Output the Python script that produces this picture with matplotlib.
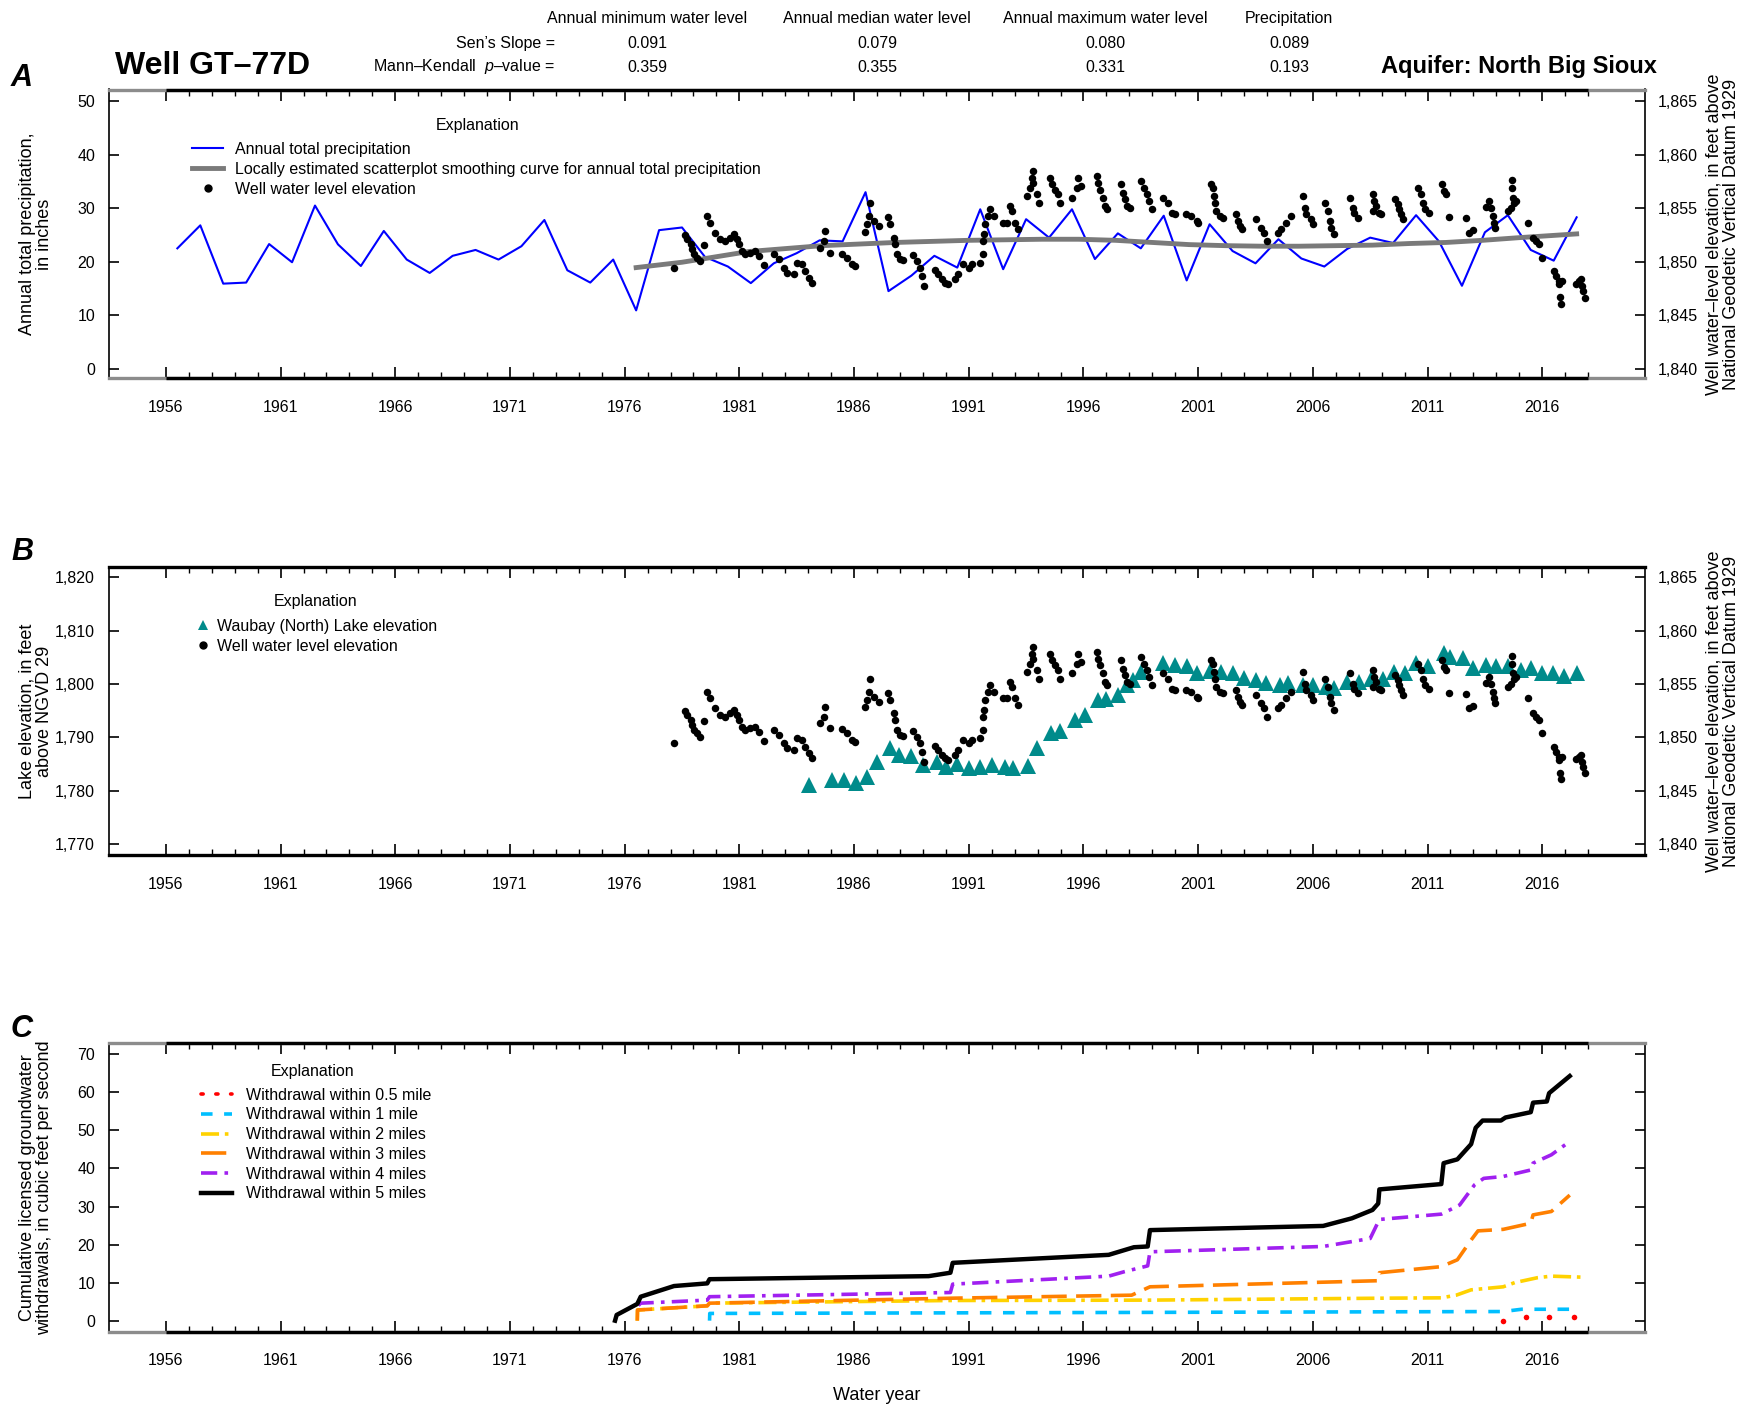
import matplotlib
matplotlib.use("Agg")
import matplotlib.pyplot as plt
from matplotlib.lines import Line2D
from matplotlib.ticker import FixedLocator, FuncFormatter

plt.rcParams['font.family'] = ['Liberation Sans', 'DejaVu Sans']
plt.rcParams['mathtext.fontset'] = 'custom'
plt.rcParams['mathtext.rm'] = 'Liberation Sans'
plt.rcParams['mathtext.it'] = 'Liberation Sans:italic'

# ---- data ----
trend_cols = ["Annual minimum water level", "Annual median water level",
              "Annual maximum water level", "Precipitation"]
sens_slope = ["0.091", "0.079", "0.080", "0.089"]
mk_pvalue = ["0.359", "0.355", "0.331", "0.193"]

# annual total precipitation (inches), water years 1956-2017
precip_year = list(range(1956, 2018))
precip_in = [22.5, 26.8, 15.9, 16.1, 23.3, 19.9, 30.5, 23.25, 19.2, 25.75,
             20.4, 17.9, 21.1, 22.2, 20.4, 22.9, 27.8, 18.4, 16.1, 20.4,
             10.9, 25.9, 26.4, 20.9, 19.1, 16.0, 19.7, 21.6, 24.0, 23.8,
             33.0, 14.5, 17.4, 21.1, 18.9, 29.8, 18.6, 27.95, 24.5, 29.8,
             20.5, 25.3, 22.5, 28.6, 16.5, 27.0, 22.0, 19.7, 24.2, 20.6,
             19.1, 22.4, 24.5, 23.5, 28.7, 23.8, 15.5, 25.5, 28.7, 22.2,
             20.2, 28.3]

# LOESS smoothing curve of precipitation
loess_yr = [1976.5, 1978.5, 1981.4, 1984.6, 1987.8, 1991.0, 1994.2, 1995.8,
            1997.4, 1999.0, 2000.6, 2002.2, 2003.8, 2005.4, 2007.0, 2008.6,
            2010.2, 2011.8, 2013.4, 2015.0, 2017.5]
loess_in = [18.9, 19.9, 21.9, 23.0, 23.6, 24.0, 24.2, 24.2, 24.0, 23.6,
            23.2, 23.0, 22.9, 22.9, 23.0, 23.1, 23.4, 23.6, 24.0, 24.5, 25.2]

# well water-level elevation (ft NGVD 29)
well_yr = [1978.17,
           1978.65, 1978.72, 1978.87, 1978.94, 1979.01, 1979.16, 1979.30,
           1979.45, 1979.59, 1979.71,
           1979.95, 1980.17, 1980.39, 1980.61, 1980.75, 1980.90, 1980.97,
           1981.12, 1981.26, 1981.48, 1981.70, 1981.84, 1982.06,
           1982.49, 1982.71, 1982.93, 1983.08,
           1983.37, 1983.51, 1983.73, 1983.87, 1984.02, 1984.16,
           1984.53, 1984.67, 1984.74, 1984.96,
           1985.47, 1985.69, 1985.90, 1986.05,
           1986.49, 1986.56, 1986.63, 1986.70, 1986.85, 1987.07,
           1987.50, 1987.57, 1987.72, 1987.79, 1987.89, 1988.01, 1988.15,
           1988.59, 1988.74, 1988.88, 1988.95, 1989.06,
           1989.53, 1989.68, 1989.82, 1989.97, 1990.11,
           1990.40, 1990.55, 1990.77, 1990.99, 1991.13,
           1991.49, 1991.61, 1991.64, 1991.67, 1991.71, 1991.86, 1991.93,
           1992.08, 1992.51, 1992.66, 1992.80, 1992.87, 1993.02, 1993.16,
           1993.53, 1993.67, 1993.74, 1993.79, 1993.82, 1993.96, 1994.08,
           1994.54, 1994.61, 1994.76, 1994.91, 1994.98,
           1995.49, 1995.70, 1995.78, 1995.88,
           1996.60, 1996.65, 1996.72, 1996.84, 1996.94, 1997.01,
           1997.62, 1997.71, 1997.81, 1997.92, 1998.03,
           1998.53, 1998.64, 1998.75, 1998.87, 1998.97,
           1999.48, 1999.70, 1999.88, 1999.99,
           2000.49, 2000.71, 2000.93, 2001.00,
           2001.58, 2001.65, 2001.68, 2001.73, 2001.80, 2001.94, 2002.09,
           2002.67, 2002.74, 2002.82, 2002.93,
           2003.54, 2003.76, 2003.86, 2003.98,
           2004.48, 2004.63, 2004.85, 2005.06,
           2005.57, 2005.65, 2005.72, 2005.94, 2006.01,
           2006.51, 2006.65, 2006.73, 2006.80, 2006.94,
           2007.60, 2007.74, 2007.81, 2007.96,
           2008.61, 2008.68, 2008.76, 2008.62, 2008.90, 2008.98,
           2009.60, 2009.70, 2009.77, 2009.85, 2009.92,
           2010.57, 2010.72, 2010.79, 2010.91, 2011.05,
           2011.63, 2011.73, 2011.81, 2011.95,
           2012.68, 2012.79, 2012.99,
           2013.55, 2013.69, 2013.76, 2013.84, 2013.91, 2013.93,
           2014.49, 2014.64, 2014.68, 2014.69, 2014.74, 2014.78, 2014.85,
           2015.40,
           2015.58, 2015.72, 2015.84, 2015.99,
           2016.52, 2016.62, 2016.71, 2016.86, 2016.74, 2016.77, 2016.81,
           2017.47, 2017.61, 2017.68, 2017.73, 2017.76, 2017.87]
well_lvl = [1849.43,
            1852.49, 1852.08, 1851.61, 1851.15, 1850.68, 1850.37, 1850.06,
            1851.55, 1854.26, 1853.64,
            1852.70, 1852.08, 1851.93, 1852.24, 1852.55, 1852.08, 1851.61,
            1850.99, 1850.68, 1850.84, 1850.99, 1850.52, 1849.68,
            1850.68, 1850.21, 1849.43, 1848.97,
            1848.81, 1849.90, 1849.75, 1849.12, 1848.50, 1848.03,
            1851.30, 1851.93, 1852.86, 1850.84,
            1850.74, 1850.37, 1849.75, 1849.59,
            1852.80, 1853.48, 1854.26, 1855.51, 1853.80, 1853.33,
            1854.17, 1853.48, 1852.24, 1851.61, 1850.68, 1850.21, 1850.12,
            1850.62, 1850.06, 1849.43, 1848.66, 1847.72,
            1849.18, 1848.81, 1848.34, 1848.03, 1847.88,
            1848.34, 1848.81, 1849.75, 1849.43, 1849.75,
            1849.90, 1850.68, 1851.93, 1852.55, 1853.48, 1854.26, 1854.89,
            1854.26, 1853.64, 1853.64, 1855.20, 1854.73, 1853.64, 1853.02,
            1856.13, 1856.91, 1857.85, 1858.47, 1857.38, 1856.29, 1855.51,
            1857.85, 1857.22, 1856.75, 1856.29, 1855.51,
            1855.98, 1856.91, 1857.85, 1857.07,
            1858.00, 1857.38, 1856.75, 1855.98, 1855.20, 1854.89,
            1857.28, 1856.44, 1855.82, 1855.20, 1855.04,
            1857.53, 1856.91, 1856.29, 1855.66, 1854.89,
            1855.98, 1855.51, 1854.57, 1854.42,
            1854.42, 1854.26, 1853.80, 1853.64,
            1857.28, 1856.91, 1856.13, 1855.51, 1854.73, 1854.26, 1854.11,
            1854.42, 1853.80, 1853.33, 1853.02,
            1853.95, 1853.17, 1852.70, 1851.93,
            1852.70, 1853.02, 1853.64, 1854.26,
            1856.13, 1855.04, 1854.42, 1853.95, 1853.48,
            1855.51, 1854.73, 1853.80, 1853.17, 1852.55,
            1855.98, 1855.04, 1854.57, 1854.11,
            1856.29, 1855.66, 1855.20, 1854.73, 1854.57, 1854.42,
            1855.82, 1855.35, 1854.89, 1854.42, 1853.95,
            1856.91, 1856.29, 1855.51, 1854.89, 1854.57,
            1857.28, 1856.60, 1856.35, 1854.17,
            1854.04, 1852.70, 1852.92,
            1855.10, 1855.66, 1855.04, 1854.26, 1853.64, 1853.17,
            1854.73, 1855.04, 1856.91, 1857.60, 1855.98, 1855.51, 1855.66,
            1853.64,
            1852.24, 1851.93, 1851.61, 1850.37,
            1849.12, 1848.66, 1848.19, 1848.19, 1847.88, 1846.69, 1846.07,
            1847.94, 1848.19, 1848.34, 1847.72, 1847.25, 1846.63]

# Waubay (North) Lake elevation (ft NGVD 29)
lake_yr = [1984.05, 1985.04, 1985.55, 1986.10, 1986.55, 1987.00, 1987.55,
           1987.98, 1988.50, 1989.00, 1989.60, 1990.00, 1990.50, 1991.00,
           1991.50, 1992.00, 1992.58, 1992.95, 1993.60, 1993.96, 1994.60,
           1994.98, 1995.63, 1996.07, 1996.65, 1997.00, 1997.52, 1997.88,
           1998.17, 1998.53, 1999.48, 1999.98, 2000.50, 2000.96, 2001.50,
           2002.00, 2002.50, 2003.00, 2003.54, 2003.97, 2004.56, 2004.90,
           2005.57, 2006.00, 2006.58, 2006.94, 2007.50, 2008.00, 2008.54,
           2009.05, 2009.55, 2010.00, 2010.50, 2011.00, 2011.73, 2012.00,
           2012.53, 2012.97, 2013.55, 2013.98, 2014.49, 2015.07, 2015.50,
           2015.98, 2016.45, 2016.96, 2017.50]
lake_elev = [1781.1, 1782.0, 1782.0, 1781.4, 1782.6, 1785.4, 1787.9,
             1786.7, 1786.4, 1784.8, 1785.4, 1784.5, 1784.9, 1784.2,
             1784.5, 1784.8, 1784.5, 1784.2, 1784.6, 1787.9, 1790.75,
             1791.25, 1793.25, 1794.2, 1797.0, 1797.1, 1797.9, 1799.8,
             1800.75, 1802.3, 1803.9, 1803.6, 1803.4, 1802.0, 1802.5,
             1802.3, 1802.0, 1801.1, 1800.75, 1800.1, 1799.8, 1800.1,
             1799.8, 1799.8, 1799.5, 1799.2, 1800.4, 1800.4, 1801.0,
             1801.0, 1802.3, 1802.0, 1803.9, 1803.3, 1805.75, 1805.1,
             1804.8, 1802.9, 1803.5, 1803.3, 1803.3, 1802.6, 1802.9,
             1802.1, 1802.1, 1801.4, 1802.0]

# cumulative licensed groundwater withdrawals (ft3/s)
w05_yr = [2014.3, 2015.3, 2016.3, 2017.4]
w05_q = [0.0, 0.9, 0.9, 0.9]
w1_yr = [1979.7, 1979.71, 2014.3, 2015.1, 2017.5]
w1_q = [0.0, 1.9, 2.4, 3.0, 3.0]
w2_yr = [1976.55, 1976.56, 1979.6, 1979.7, 1990.2, 1998.9, 2008.85, 2011.6,
         2012.25, 2012.9, 2014.3, 2014.8, 2015.8, 2016.4, 2017.9]
w2_q = [0.0, 2.8, 3.9, 4.6, 5.3, 5.4, 5.9, 6.0, 6.7, 8.1, 8.9, 10.0, 11.3,
        11.7, 11.4]
w3_yr = [1976.55, 1976.56, 1979.6, 1979.7, 1990.2, 1998.1, 1998.9, 2008.85,
         2008.9, 2011.6, 2012.3, 2012.9, 2013.2, 2014.3, 2015.5, 2015.6,
         2016.4, 2017.2]
w3_q = [0.0, 2.8, 3.9, 4.6, 5.9, 6.7, 8.9, 10.5, 12.6, 14.2, 16.0, 21.2,
        23.6, 24.0, 25.6, 27.8, 28.7, 33.0]
w4_yr = [1976.6, 1976.7, 1979.6, 1979.7, 1990.2, 1990.3, 1997.1, 1997.8,
         1998.8, 1998.9, 2006.45, 2008.5, 2008.9, 2011.6, 2012.4, 2013.05,
         2013.45, 2014.3, 2015.5, 2015.6, 2016.4, 2017.2]
w4_q = [4.0, 4.6, 5.4, 6.3, 7.4, 9.6, 11.7, 12.9, 14.4, 18.1, 19.5, 21.6,
        26.6, 28.0, 30.4, 35.7, 37.4, 37.9, 39.6, 41.4, 43.6, 47.1]
w5_yr = [1975.58, 1975.65, 1976.55, 1976.7, 1978.15, 1979.6, 1979.7, 1989.25,
         1990.2, 1990.3, 1997.1, 1998.2, 1998.8, 1998.9, 2006.45, 2007.7,
         2008.6, 2008.85, 2008.9, 2011.6, 2011.7, 2012.3, 2012.9, 2013.1,
         2013.4, 2014.2, 2014.4, 2015.5, 2015.6, 2016.2, 2016.3, 2017.2]
w5_q = [0.0, 1.5, 4.4, 6.3, 9.1, 9.8, 10.9, 11.7, 12.6, 15.2, 17.3, 19.3,
        19.5, 23.8, 24.9, 26.9, 29.1, 30.8, 34.5, 35.9, 41.4, 42.4, 46.4,
        50.7, 52.6, 52.6, 53.4, 54.8, 57.3, 57.6, 59.8, 64.3]

year_ticks = list(range(1956, 2017, 5))
W, H = 1758, 1408
FS = 11.5
LBL = 13
right_label = "Well water\u2013level elevation, in feet above\nNational Geodetic Vertical Datum 1929"
comma = FuncFormatter(lambda v, p: f"{v:,.0f}")

fig = plt.figure(figsize=(W / 100, H / 100), dpi=100)


def add_axes_px(left, top, right, bottom):
    return fig.add_axes([left / W, 1 - bottom / H, (right - left) / W, (bottom - top) / H])


def style_panel(ax, ax2, gray_ends):
    ax.set_xlim(1953.52, 2020.48)
    ax.xaxis.set_major_locator(FixedLocator(year_ticks))
    ax.xaxis.set_minor_locator(FixedLocator(range(1956, 2019)))
    ax.tick_params(axis='x', which='both', direction='in', top=True, bottom=True,
                   pad=15.5, labelsize=FS)
    ax.tick_params(axis='x', which='major', length=8, width=1.2)
    ax.tick_params(axis='x', which='minor', length=4, width=1)
    ax.tick_params(axis='y', direction='in', length=7, width=1.2, pad=10, labelsize=FS)
    if ax2 is not None:
        ax2.tick_params(axis='y', direction='in', length=7, width=1.2, pad=9.5, labelsize=FS)
        for s in ax2.spines.values():
            s.set_visible(False)
        top = ax2
    else:
        top = ax
    edge = '#8c8c8c' if gray_ends else 'black'
    for side in ['top', 'bottom']:
        ax.spines[side].set_linewidth(2.4)
        ax.spines[side].set_color(edge)
    for side in ['left', 'right']:
        ax.spines[side].set_linewidth(1.2)
    if gray_ends:
        # the heavy black frame only runs over the tick span
        for yy in [0, 1]:
            top.plot([1956, 2018], [yy, yy], color='black', lw=2.4,
                     transform=top.get_xaxis_transform(), clip_on=False,
                     zorder=5, solid_capstyle='butt')


def left_label(text, yc):
    fig.text(36 / W, 1 - yc / H, text, rotation=90, ha='center', va='center',
             fontsize=LBL, multialignment='center', linespacing=1.05)


def right_lab(yc):
    fig.text(1723 / W, 1 - yc / H, right_label, rotation=90, ha='center',
             va='center', fontsize=LBL, multialignment='center', linespacing=1.05)


def legend_at(ax, handles, labels, x, yc, hl, pad):
    ax.legend(handles, labels, loc='center left', bbox_to_anchor=(x / W, 1 - yc / H),
              bbox_transform=fig.transFigure, frameon=False, fontsize=FS,
              handlelength=hl, handletextpad=pad, labelspacing=0.3,
              borderpad=0, borderaxespad=0)


# ---- header ----
for x, name, s, p in zip([647, 877, 1105, 1289], trend_cols, sens_slope, mk_pvalue):
    fig.text(x / W, 1 - 18.5 / H, name, ha='center', va='center', fontsize=FS)
    fig.text(x / W, 1 - 43.5 / H, s, ha='center', va='center', fontsize=FS)
    fig.text(x / W, 1 - 67 / H, p, ha='center', va='center', fontsize=FS)
fig.text(555 / W, 1 - 43.5 / H, "Sen\u2019s Slope =", ha='right', va='center', fontsize=FS)
fig.text(555 / W, 1 - 67 / H, "Mann\u2013Kendall  $p$\u2013value =", ha='right',
         va='center', fontsize=FS)
fig.text(115 / W, 1 - 65.5 / H, "Well GT\u201377D", ha='left', va='center',
         fontsize=23, fontweight='bold')
fig.text(1657 / W, 1 - 66.5 / H, "Aquifer: North Big Sioux", ha='right', va='center',
         fontsize=17, fontweight='bold')

for letter, yc in [('A', 77.5), ('B', 552), ('C', 1029)]:
    fig.text(22 / W, 1 - yc / H, letter, ha='center', va='center', fontsize=22,
             fontweight='bold', style='italic')

# ---- panel A ----
ax_a = add_axes_px(109, 89.5, 1645, 378.3)
ax_a2 = ax_a.twinx()
ax_a.plot([y + 0.5 for y in precip_year], precip_in, color='#0000ff', lw=1.5, zorder=3)
ax_a.plot(loess_yr, loess_in, color='#7a7a7a', lw=3.5, zorder=4)
ax_a2.plot(well_yr, well_lvl, 'o', color='black', ms=5.4, mew=0)
ax_a.set_ylim(-1.8, 52.2)
ax_a.set_yticks(range(0, 51, 10))
ax_a2.set_ylim(1839.1, 1866.1)
ax_a2.set_yticks(range(1840, 1866, 5))
ax_a2.yaxis.set_major_formatter(comma)
style_panel(ax_a, ax_a2, True)
left_label("Annual total precipitation,\nin inches", 234)
right_lab(234)

hA = [Line2D([], [], color='#0000ff', lw=1.5),
      Line2D([], [], color='#7a7a7a', lw=3.5),
      Line2D([], [], color='black', marker='o', ls='none', ms=5)]
lA = ["Annual total precipitation",
      "Locally estimated scatterplot smoothing curve for annual total precipitation",
      "Well water level elevation"]
legend_at(ax_a2, hA, lA, 192, 169.3, 1.95, 0.75)
fig.text(478 / W, 1 - 125.6 / H, "Explanation", ha='center', va='center', fontsize=FS)

# ---- panel B ----
ax_b = add_axes_px(109, 566.7, 1645, 855)
ax_b2 = ax_b.twinx()
ax_b.plot(lake_yr, lake_elev, '^', color='#008b8b', ms=11, mew=0)
ax_b2.plot(well_yr, well_lvl, 'o', color='black', ms=5.4, mew=0)
ax_b.set_ylim(1767.9, 1822)
ax_b.set_yticks(range(1770, 1821, 10))
ax_b.yaxis.set_major_formatter(comma)
ax_b2.set_ylim(1838.95, 1866)
ax_b2.set_yticks(range(1840, 1866, 5))
ax_b2.yaxis.set_major_formatter(comma)
style_panel(ax_b, ax_b2, False)
left_label("Lake elevation, in feet\nabove NGVD 29", 711)
right_lab(711)

hB = [Line2D([], [], color='#008b8b', marker='^', ls='none', ms=7, mew=0),
      Line2D([], [], color='black', marker='o', ls='none', ms=5)]
lB = ["Waubay (North) Lake elevation", "Well water level elevation"]
legend_at(ax_b2, hB, lB, 195, 636.3, 1.0, 0.4)
fig.text(316 / W, 1 - 602 / H, "Explanation", ha='center', va='center', fontsize=FS)

# ---- panel C ----
ax_c = add_axes_px(109, 1043.3, 1645, 1331.7)
series_c = [
    (w05_yr, w05_q, dict(color='red', ls='none', marker='o', ms=4, mew=0)),
    (w1_yr, w1_q, dict(color='#00bfff', lw=2.6, dashes=(3.2, 3.2))),
    (w2_yr, w2_q, dict(color='#ffd200', lw=2.6, dashes=(5, 1.6, 1, 1.6))),
    (w3_yr, w3_q, dict(color='#ff8000', lw=2.6, dashes=(7, 2.6))),
    (w4_yr, w4_q, dict(color='#a020f0', lw=2.6, dashes=(4.5, 2, 1, 2))),
    (w5_yr, w5_q, dict(color='black', lw=3.2)),
]
for xs, ys, kw in series_c:
    ax_c.plot(xs, ys, **kw)
ax_c.set_ylim(-2.9, 72.9)
ax_c.set_yticks(range(0, 71, 10))
style_panel(ax_c, None, True)
ax_c.tick_params(axis='y', right=True, labelright=False)
left_label("Cumulative licensed groundwater\nwithdrawals, in cubic feet per second", 1187.5)
fig.text(877 / W, 1 - 1396 / H, "Water year", ha='center', va='center', fontsize=LBL)

hC = [Line2D([], [], color='red', lw=2.6, ls=(0, (0.6, 3.5)), dash_capstyle='round'),
      Line2D([], [], color='#00bfff', lw=2.6, dashes=(3.2, 3.2)),
      Line2D([], [], color='#ffd200', lw=2.6, dashes=(5, 1.6, 1, 1.6)),
      Line2D([], [], color='#ff8000', lw=2.6, dashes=(7, 2.6)),
      Line2D([], [], color='#a020f0', lw=2.6, dashes=(4.5, 2, 1, 2)),
      Line2D([], [], color='black', lw=3.2)]
lC = ["Withdrawal within 0.5 mile", "Withdrawal within 1 mile",
      "Withdrawal within 2 miles", "Withdrawal within 3 miles",
      "Withdrawal within 4 miles", "Withdrawal within 5 miles"]
legend_at(ax_c, hC, lC, 201, 1144.5, 1.95, 0.85)
fig.text(313 / W, 1 - 1071.7 / H, "Explanation", ha='center', va='center', fontsize=FS)

fig.savefig("out.png", dpi=100)
